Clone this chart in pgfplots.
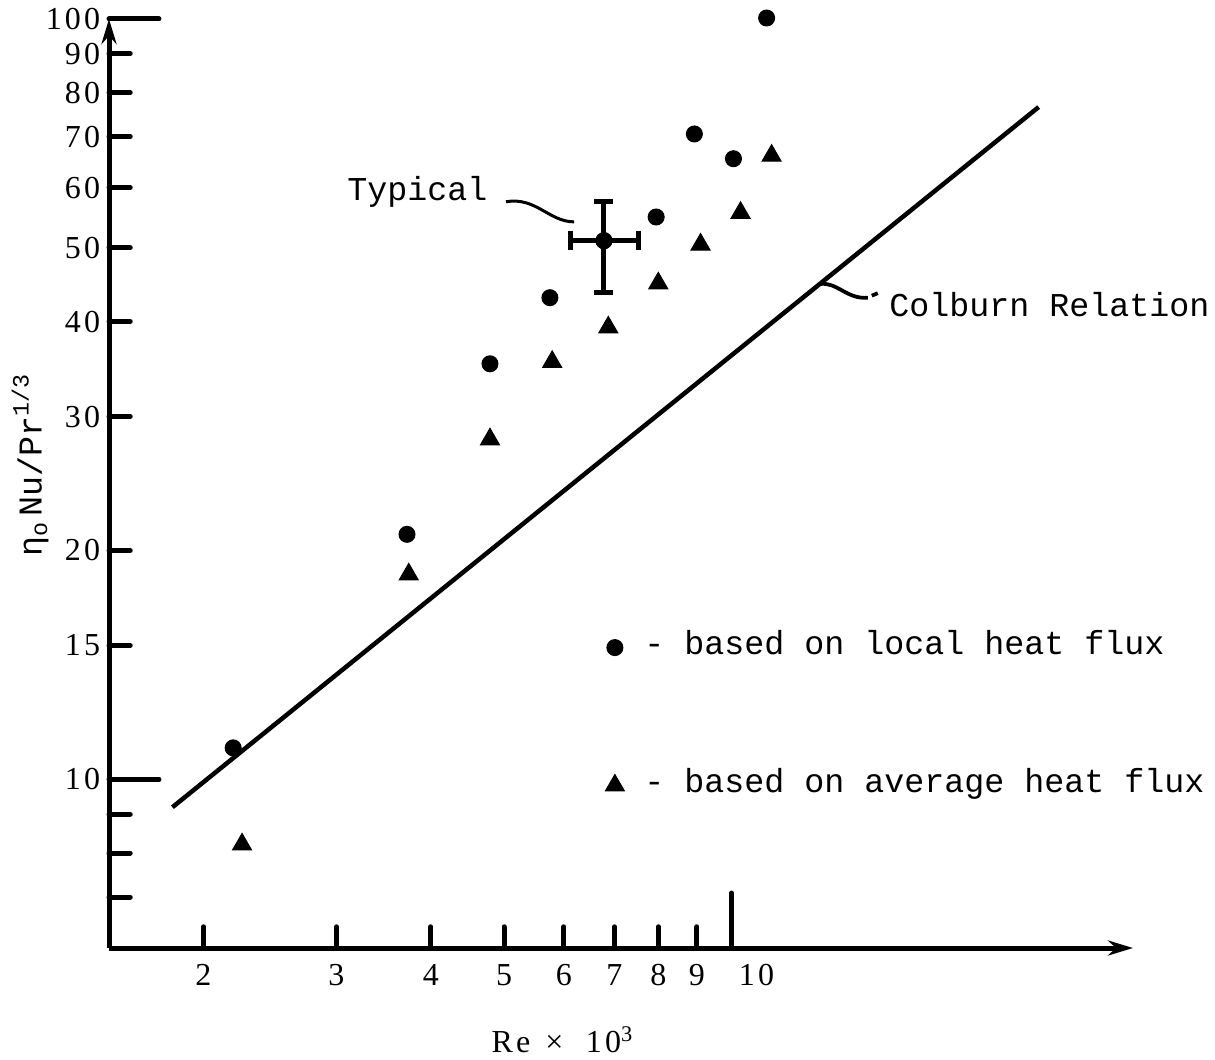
\documentclass[border=0pt]{standalone}
\usepackage{fontspec}
\setmainfont{Liberation Mono}
\newfontfamily\numfont[LetterSpace=10]{Liberation Serif}
\usepackage{pgfplots}
\pgfplotsset{compat=1.18}
\usetikzlibrary{arrows.meta}

\begin{document}
\begin{tikzpicture}[font=\fontsize{13.33}{16}\selectfont]
\begin{loglogaxis}[
  scale only axis,
  width=409.6pt, height=371.6pt,
  xmin=1.5, xmax=34, ymin=6, ymax=100,
  axis lines=left,
  axis line style={line width=2pt, -{Stealth[length=10pt,width=6pt]}},
  tick align=inside,
  major tick length=8.5pt,
  tick style={line width=2pt, line cap=round, black},
  xtick={2,3,4,5,6,7,8,9},
  xticklabels={2,3,4,5,6,7,8,9},
  extra x ticks={10},
  extra x tick labels={10},
  extra x tick style={major tick length=22pt, xticklabel style={xshift=10pt}},
  ytick={7,8,9,15,20,30,40,50,60,70,80,90},
  yticklabels={,,,15,20,30,40,50,60,70,80,90},
  extra y ticks={10,100},
  extra y tick labels={10,100},
  extra y tick style={major tick length=20pt},
  minor xtick={}, minor ytick={},
  ticklabel style={font=\numfont\fontsize{12.8}{14}\selectfont},
  xticklabel style={yshift=-3pt},
  clip=false,
  legend style={at={(axis cs:7.01,14.73)}, anchor=north west, xshift=-3.81pt, yshift=8.4pt,
    draw=none, fill=none, inner sep=0pt, outer sep=0pt, row sep=44pt, column sep=8pt,
    nodes={inner sep=0pt, outer sep=0pt}, cells={anchor=base west},
    font=\fontsize{13.33}{16}\selectfont},
  legend image code/.code={\draw[#1] plot coordinates {(0pt,2.8pt)};},
]
\coordinate (O) at (rel axis cs:0,0);

\addplot[only marks, mark=*, mark size=3.2pt, black] coordinates {
  (2.19,11.0) (3.72,21.0) (4.79,35.2) (5.75,43.0) (6.78,51.1)
  (7.95,54.9) (8.93,70.6) (10.06,65.5) (11.13,100.3)
};
\addlegendentry{- based on local heat flux}

\addplot[only marks, mark=triangle*, mark size=4.4pt, black] coordinates {
  (2.25,8.21) (3.74,18.6) (4.79,28.0) (5.79,35.4) (6.87,39.3)
  (8.00,44.9) (9.10,50.5) (10.28,55.6) (11.3,66.1)
};
\addlegendentry{- based on average heat flux}

\addplot[forget plot, line width=1.8pt, black] coordinates {(1.82,9.19) (25.5,76.6)};

\addplot[forget plot, only marks, mark=*, mark size=3.2pt, black,
  error bars/.cd, x dir=both, y dir=both, x explicit, y explicit,
  error bar style={line width=2pt, black},
  error mark options={rotate=90, line width=2pt, mark size=3.8pt, black}]
  coordinates {(6.78,51.1) += (0.75,6.4) -= (0.66,7.45)};

\node[anchor=base east, inner sep=0pt] at (axis cs:4.76,57.8) {Typical};
\draw[line width=1.2pt] (axis cs:5.03,57.5) .. controls +(12pt,2pt) and +(-10pt,0pt) .. (axis cs:6.19,54.1);
\node[anchor=base west, inner sep=0pt] at (axis cs:16.16,40.6) {Colburn Relation};
\draw[line width=1.5pt] (axis cs:13.08,44.8) .. controls +(6.8pt,1.2pt) and +(-8.4pt,-0.8pt) .. (axis cs:15.15,43.0);
\draw[line width=1.5pt] (axis cs:15.15,43.0) ++(1.6pt,0.8pt) -- ++(2.4pt,1pt);

\node[rotate=90] at (axis description cs:-0.077,0.52) {η\textsubscript{o}\,Nu/Pr\textsuperscript{1/3}};
\node[font=\numfont\fontsize{12.8}{14}\selectfont, yshift=-36.8pt] at (axis description cs:0.443,0) {Re\hspace{6pt}×\hspace{9pt}10\textsuperscript{3}};
\end{loglogaxis}
\pgfresetboundingbox
\path[use as bounding box] (O) ++(-43.6pt,-44.4pt) rectangle ++(486pt,423.6pt);
\end{tikzpicture}
\end{document}
